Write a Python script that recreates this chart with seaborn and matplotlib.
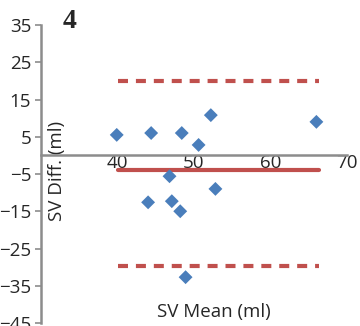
import matplotlib
matplotlib.use("Agg")
import matplotlib.pyplot as plt
import seaborn as sns
import pandas as pd

# Bland-Altman data
sv_mean = [39.9, 44.4, 48.4, 50.6, 52.2, 66.0, 44.0, 47.1, 46.8, 48.2, 52.8, 48.9]
sv_diff = [5.5, 6.0, 6.0, 2.8, 10.8, 9.0, -12.6, -12.3, -5.6, -15.0, -9.0, -32.7]

bias = -3.9
upper_loa = 20.0
lower_loa = -29.6
line_x = [40, 66.4]

x_ticks = [40, 50, 60, 70]
y_ticks = [35, 25, 15, 5, -5, -15, -25, -35, -45]

df = pd.DataFrame({"mean": sv_mean, "diff": sv_diff})

sns.set_style("white")
plt.rcParams["font.family"] = ["Open Sans", "DejaVu Sans"]

fig = plt.figure(figsize=(3.6, 3.26), dpi=100)
ax = fig.add_axes([41 / 360, 1 - 323 / 326, 306 / 360, 298 / 326])

red = "#C0504D"
blue = "#4A7EBB"
grey = "#8C8C8C"

# limits of agreement and bias
ax.plot(line_x, [upper_loa, upper_loa], color=red, lw=3, dashes=(2.4, 1.9), solid_capstyle="butt")
ax.plot(line_x, [lower_loa, lower_loa], color=red, lw=3, dashes=(2.4, 1.9), solid_capstyle="butt")
ax.plot(line_x, [bias, bias], color=red, lw=3)

sns.scatterplot(data=df, x="mean", y="diff", marker="D", s=50, color=blue,
                edgecolor="none", ax=ax, zorder=3)

ax.set_xlim(30, 70)
ax.set_ylim(-45, 35)
ax.set_xticks(x_ticks)
ax.set_yticks(y_ticks)

for s in ["top", "right"]:
    ax.spines[s].set_visible(False)
ax.spines["bottom"].set_position(("data", 0))
for s in ["left", "bottom"]:
    ax.spines[s].set_color(grey)
    ax.spines[s].set_linewidth(1.8)

ax.tick_params(axis="y", direction="out", length=4, width=1.2, color=grey,
               labelsize=13.5, pad=3, left=True)
ax.tick_params(axis="x", length=0, labelsize=13.5, pad=-1)

ax.set_xlabel("SV Mean (ml)", fontsize=13.5)
ax.set_ylabel("SV Diff. (ml)", fontsize=13.5)
ax.xaxis.set_label_coords(0.565, 0.037)
ax.yaxis.set_label_coords(0.052, 0.51)
ax.yaxis.label.set_va("center")
ax.xaxis.label.set_va("center")

fig.text(70 / 360, 1 - 22 / 326, "4", fontsize=20, fontweight="bold",
         family="Liberation Serif", ha="center", va="center")

fig.savefig("out.png", dpi=100)
